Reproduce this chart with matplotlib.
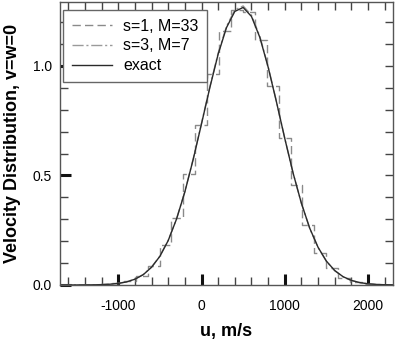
import matplotlib
matplotlib.use("Agg")
import matplotlib.pyplot as plt
import numpy as np

plt.rcParams['font.family'] = ['Liberation Sans', 'DejaVu Sans']

# exact distribution
u_exact = [-1700, -1600, -1500, -1400, -1300, -1200, -1100, -1000, -900, -800,
           -700, -600, -500, -400, -300, -200, -100, 0, 100, 200,
           300, 400, 500, 600, 700, 800, 900, 1000, 1100, 1200,
           1300, 1400, 1500, 1600, 1700, 1800, 1900, 2000, 2100, 2200, 2300]
f_exact = [0.0000, 0.0001, 0.0001, 0.0003, 0.0007, 0.0016, 0.0035, 0.0072, 0.0141, 0.0264,
           0.047, 0.081, 0.131, 0.203, 0.301, 0.425, 0.573, 0.736, 0.901, 1.054,
           1.175, 1.249, 1.267, 1.226, 1.131, 0.995, 0.836, 0.669, 0.511, 0.373,
           0.259, 0.172, 0.109, 0.066, 0.038, 0.021, 0.011, 0.0054, 0.0026, 0.0012, 0.0005]

# s=3, M=7 approximation (nearly coincident with exact)
f_s3 = [0.0000, 0.0001, 0.0002, 0.0004, 0.0008, 0.0017, 0.0036, 0.0074, 0.0145, 0.0270,
        0.048, 0.082, 0.132, 0.204, 0.302, 0.427, 0.576, 0.739, 0.905, 1.059,
        1.181, 1.256, 1.274, 1.232, 1.136, 0.998, 0.838, 0.670, 0.511, 0.372,
        0.258, 0.171, 0.108, 0.065, 0.037, 0.020, 0.011, 0.0053, 0.0025, 0.0011, 0.0005]

# s=1, M=33 histogram (bin edges and bin values)
bin_edges = [-1648, -1505, -1362, -1219, -1076, -933, -790, -647, -504, -361, -218, -75,
             68, 211, 354, 497, 640, 783, 926, 1069, 1212, 1355, 1498, 1641, 1784,
             1927, 2070, 2213, 2356]
bin_vals = [0.0001, 0.0002, 0.0008, 0.0024, 0.0069, 0.018, 0.043, 0.087, 0.181, 0.308,
            0.507, 0.731, 0.962, 1.158, 1.255, 1.245, 1.117, 0.908, 0.671, 0.455,
            0.275, 0.148, 0.077, 0.032, 0.0145, 0.0055, 0.0019, 0.0005]

x_major = [-1000, 0, 1000, 2000]
x_major_labels = ['-1000', '0', '1000', '2000']
y_major = [0.0, 0.5, 1.0]
y_major_labels = ['0.0', '0.5', '1.0']

fig = plt.figure(figsize=(4.16, 3.42), dpi=100)
ax = fig.add_axes([0.1442, 0.1667, 0.8005, 0.8275])

step_y = list(bin_vals) + [bin_vals[-1]]
ax.step(bin_edges, step_y, where='post', color='#8a8a8a', lw=1.0,
        linestyle=(0, (6, 3)), label='s=1, M=33')
ax.plot(u_exact, f_s3, color='#9a9a9a', lw=1.0, linestyle=(0, (8, 2, 1.5, 2)),
        label='s=3, M=7')
ax.plot(u_exact, f_exact, color='#2a2a2a', lw=1.0, label='exact')

ax.set_xlim(-1700, 2300)
ax.set_ylim(0, 1.292)

ax.set_xticks(x_major)
ax.set_xticklabels(x_major_labels)
ax.set_yticks(y_major)
ax.set_yticklabels(y_major_labels)
ax.set_xticks(np.arange(-1600, 2301, 200), minor=True)
ax.set_yticks(np.arange(0, 1.29, 0.1), minor=True)

ax.tick_params(which='major', direction='in', length=8, width=2.2, color='#111111',
               labelsize=10, pad=6)
ax.tick_params(which='minor', direction='in', length=6, width=1.0, color='#444444')
ax.tick_params(axis='x', which='major', pad=10)

for sp in ax.spines.values():
    sp.set_color('#555555')
    sp.set_linewidth(1.0)

secx = ax.secondary_xaxis('top')
secx.set_xticks(np.arange(-1600, 2301, 200))
secx.tick_params(direction='in', length=6, width=1.0, color='#444444', labeltop=False)
secx.spines['top'].set_visible(False)
secy = ax.secondary_yaxis('right')
secy.set_yticks(np.arange(0.1, 1.29, 0.1))
secy.tick_params(direction='in', length=6, width=1.0, color='#444444', labelright=False)
secy.spines['right'].set_visible(False)

ax.set_xlabel('u, m/s', fontsize=13, fontweight='bold', labelpad=7)
ax.set_ylabel('Velocity Distribution, v=w=0', fontsize=13, fontweight='bold', labelpad=8)

leg = ax.legend(loc='upper left', bbox_to_anchor=(0.009, 0.972), fontsize=11.5,
                handlelength=2.5, labelspacing=0.3, borderaxespad=0.0,
                fancybox=False, framealpha=1.0, edgecolor='#666666',
                borderpad=0.55, handletextpad=0.7)
leg.get_frame().set_linewidth(1.0)

fig.savefig('out.png', dpi=100)
